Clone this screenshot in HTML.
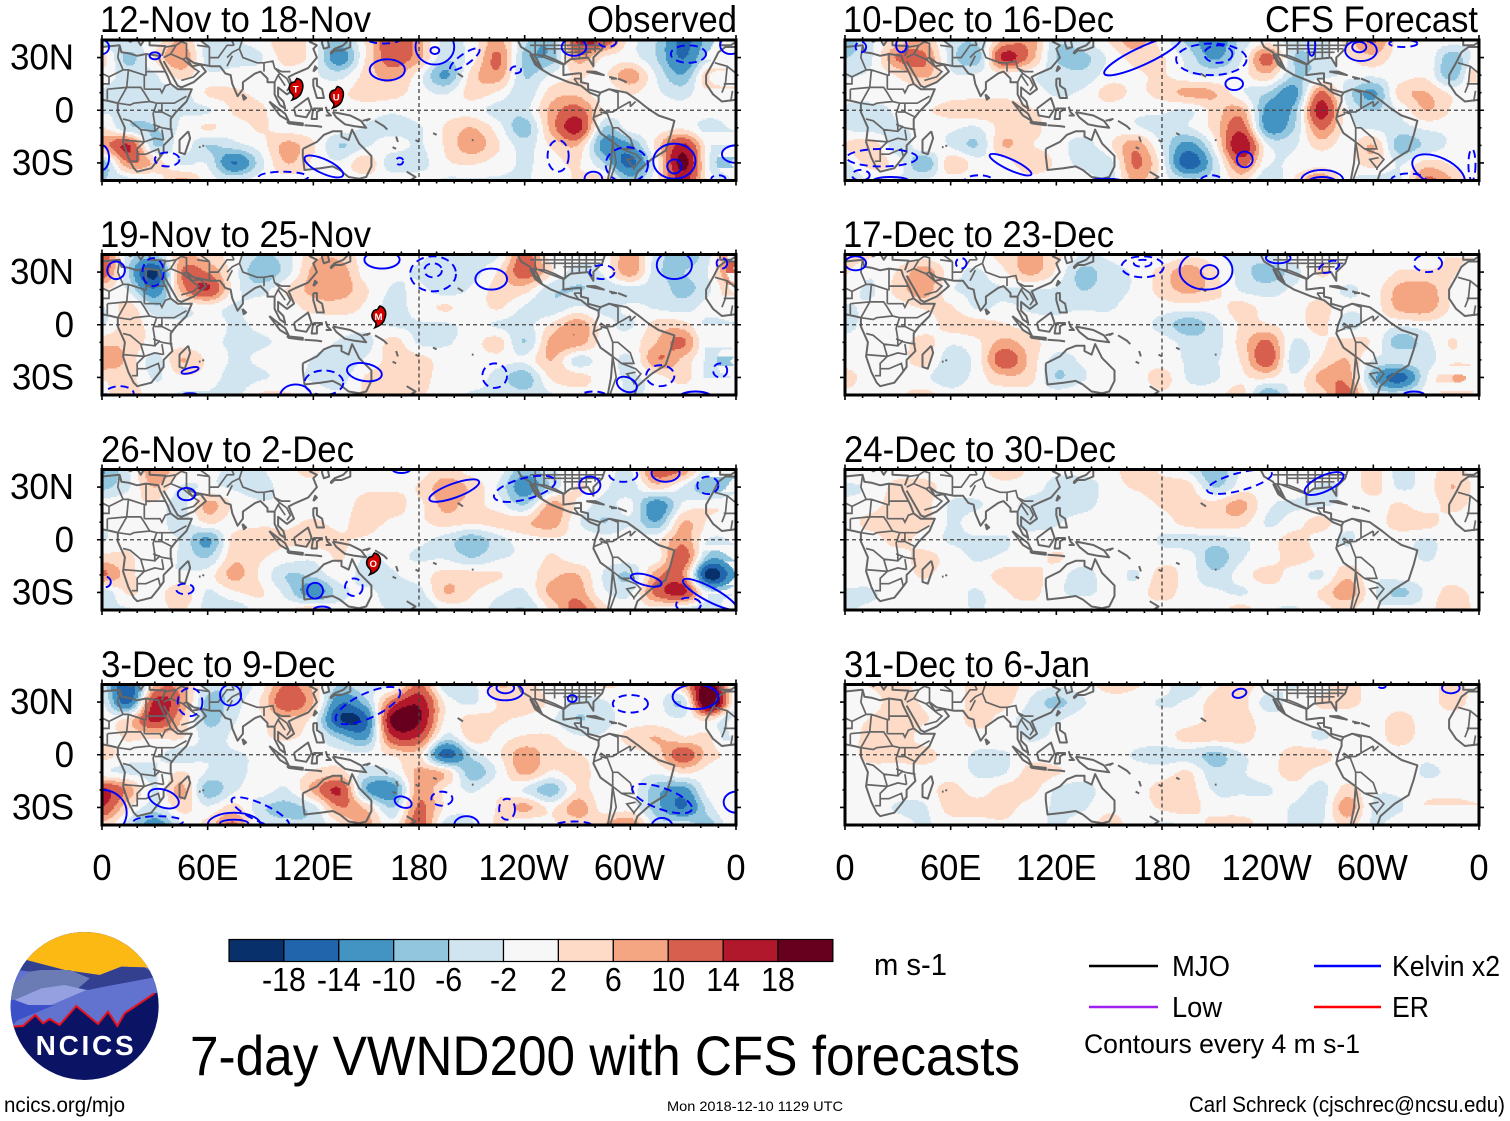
<!DOCTYPE html>
<html lang="en">
<head>
<meta charset="utf-8">
<title>7-day VWND200 with CFS forecasts</title>
<style>
html,body{margin:0;padding:0;background:#fff;width:1510px;height:1121px;overflow:hidden}
svg{display:block}
text{font-family:"Liberation Sans",sans-serif;fill:#000}
</style>
</head>
<body>
<svg id="chart" xmlns="http://www.w3.org/2000/svg" width="1510" height="1121" viewBox="0 0 1510 1121">
<rect width="1510" height="1121" fill="#fff"/>
<g id="panels"></g>

<g font-size="37">
<text x="100" y="32" textLength="271" lengthAdjust="spacingAndGlyphs">12-Nov to 18-Nov</text>
<text x="587" y="32" textLength="150" lengthAdjust="spacingAndGlyphs">Observed</text>
<text x="100" y="247" textLength="271" lengthAdjust="spacingAndGlyphs">19-Nov to 25-Nov</text>
<text x="101" y="462" textLength="253" lengthAdjust="spacingAndGlyphs">26-Nov to 2-Dec</text>
<text x="101" y="677" textLength="234" lengthAdjust="spacingAndGlyphs">3-Dec to 9-Dec</text>
<text x="843" y="32" textLength="271" lengthAdjust="spacingAndGlyphs">10-Dec to 16-Dec</text>
<text x="1265" y="32" textLength="213" lengthAdjust="spacingAndGlyphs">CFS Forecast</text>
<text x="843" y="247" textLength="271" lengthAdjust="spacingAndGlyphs">17-Dec to 23-Dec</text>
<text x="844" y="462" textLength="272" lengthAdjust="spacingAndGlyphs">24-Dec to 30-Dec</text>
<text x="844" y="677" textLength="246" lengthAdjust="spacingAndGlyphs">31-Dec to 6-Jan</text>
</g>

<g id="colorbar"></g>
<text x="874" y="975" font-size="31" textLength="73" lengthAdjust="spacingAndGlyphs">m s-1</text>

<g>
<line x1="1089" y1="966" x2="1158" y2="966" stroke="#000" stroke-width="2.4"/>
<text x="1172" y="976" font-size="29" textLength="58" lengthAdjust="spacingAndGlyphs">MJO</text>
<line x1="1089" y1="1007" x2="1158" y2="1007" stroke="#a020f0" stroke-width="2.4"/>
<text x="1172" y="1017" font-size="29" textLength="50" lengthAdjust="spacingAndGlyphs">Low</text>
<line x1="1314" y1="966" x2="1381" y2="966" stroke="#0000ff" stroke-width="2.4"/>
<text x="1392" y="976" font-size="29" textLength="108" lengthAdjust="spacingAndGlyphs">Kelvin x2</text>
<line x1="1314" y1="1007" x2="1381" y2="1007" stroke="#ff0000" stroke-width="2.4"/>
<text x="1392" y="1017" font-size="29" textLength="37" lengthAdjust="spacingAndGlyphs">ER</text>
<text x="1084" y="1053" font-size="27" textLength="276" lengthAdjust="spacingAndGlyphs">Contours every 4 m s-1</text>
</g>

<text x="190" y="1075" font-size="56" textLength="830" lengthAdjust="spacingAndGlyphs">7-day VWND200 with CFS forecasts</text>
<text x="4" y="1112" font-size="21" textLength="121" lengthAdjust="spacingAndGlyphs">ncics.org/mjo</text>
<text x="667" y="1111" font-size="14" textLength="176" lengthAdjust="spacingAndGlyphs">Mon 2018-12-10 1129 UTC</text>
<text x="1189" y="1112" font-size="22" textLength="316" lengthAdjust="spacingAndGlyphs">Carl Schreck (cjschrec@ncsu.edu)</text>

<g transform="translate(-2,920) scale(.3333)">
<clipPath id="logoClip"><circle cx="260" cy="258" r="222"/></clipPath>
<g clip-path="url(#logoClip)">
<rect x="30" y="30" width="460" height="460" fill="#0b1464"/>
<path fill="#6272cf" d="M30,0H490V215L470,220L380,280L358,318L330,275L300,312L235,258L185,315L155,297L135,310L112,285L75,318L30,322Z"/>
<path fill="#fdb913" d="M30,0H490V150L440,142L370,140L305,165L200,150L85,120L60,150L30,170Z"/>
<path fill="#333f8f" d="M60,150L85,120L200,150L305,165L370,140L440,142L480,170L320,200L270,210L240,205L275,175L215,150L130,150L95,155Z"/>
<path fill="#6b7cb5" d="M30,240L50,190L95,155L130,150L215,150L275,175L240,205L130,205L50,240Z"/>
<path fill="#94a0e0" d="M50,240L130,205L200,195L265,210L160,255L90,255Z"/>
<path fill="#3c50c8" d="M30,238L50,240L90,255L170,255L60,300L40,320L30,320Z"/>
<path fill="none" stroke="#e8121c" stroke-width="6" d="M40,320L75,318L112,285L135,310L155,297L185,315L235,258L300,312L330,275L358,318L380,280L470,220"/>
</g>
<text x="113" y="405" font-size="84" font-weight="bold" style="fill:#fff" textLength="294" lengthAdjust="spacing">NCICS</text>
</g>
</svg>

<script>
const gridLons = [0,15,30,45,60,75,90,105,120,135,150,165,180,195,210,225,240,255,270,285,300,315,330,345,360];
const gridLats = [40,30,20,10,0,-10,-20,-30,-40];
const bandEdges = [-18,-14,-10,-6,-2,2,6,10,14,18];
const bandColors = ['#08306b','#2166ac','#4393c3','#92c5de','#d1e5f0','#f7f7f7','#fddbc7','#f4a582','#d6604d','#b2182b','#67001f'];
const colorbarLabels = ['-18','-14','-10','-6','-2','2','6','10','14','18'];
const xTickValues = [0,60,120,180,240,300,360];
const xTickLabels = ['0','60E','120E','180','120W','60W','0'];
const yTickValues = [30,0,-30];
const yTickLabels = ['30N','0','30S'];

const field12Nov = [
[-4,-2,0,5,-3,-2,0,4,0,-6,2,12,6,-3,0,6,-4,-7,14,12,0,-5,-14,-6,-2],
[3,-6,2,8,-3,-3,-2,3,0,-11,2,11,6,-4,0,9,-6,-7,7,1,0,-5,-13,-3,-3],
[0,-3,-2,3,-1,0,0,0,-1,-3,3,6,0,-9,3,7,-5,-1,2,1,7,-2,-8,5,8],
[-2,-3,-2,-3,2,2,1,0,0,1,3,3,0,-2,3,1,-4,3,4,-1,2,-1,-3,2,3],
[-2,-2,-3,-2,-2,2,2,0,1,0,0,-1,0,0,0,-3,-3,6,10,1,0,0,0,0,0],
[2,-4,-5,-1,2,0,2,0,0,0,-2,-3,-2,2,5,0,-7,6,15,-5,0,0,1,-3,-1],
[6,13,-5,0,-5,-3,0,6,2,-5,-2,0,-2,2,7,2,-3,2,5,-10,-9,3,14,-1,-5],
[-7,8,4,-2,-2,-13,-3,5,1,-1,4,-4,-3,1,2,0,-2,0,2,-5,-14,0,19,-2,-9],
[-5,-3,-1,6,0,-2,0,0,0,0,0,1,0,-2,-2,-2,-2,0,2,3,-7,1,14,0,-5]];
const field19Nov = [
[12,-3,-5,5,3,0,-5,-3,4,4,0,-1,-1,-3,-2,-2,10,0,0,0,7,-3,-7,-2,12],
[12,-5,-18,8,8,0,-8,-3,6,7,0,-1,-2,-3,-3,2,11,2,-3,-1,7,-4,-5,-1,13],
[2,-2,-12,6,13,0,-3,2,6,7,2,-2,-1,-3,-1,3,3,-4,-5,-4,-3,-3,-6,-2,6],
[-2,3,-4,-2,0,-2,0,0,3,3,1,-3,0,2,0,2,-2,-4,-1,-3,-1,-2,-3,0,3],
[-2,3,0,-1,0,-2,-1,0,-1,0,0,-2,-2,-2,-1,-2,-3,2,7,0,-2,3,3,-3,-2],
[4,4,0,0,-1,-2,-2,-1,0,-2,-3,3,-2,-2,0,3,-5,6,7,0,0,5,9,-3,-3],
[8,4,-3,5,1,-2,-1,1,-2,-4,-1,3,3,0,0,0,-1,5,-3,0,-2,8,4,-3,-9],
[2,3,-2,1,0,-3,-2,-1,-2,-3,2,3,3,0,0,-3,-7,2,3,0,-2,0,3,-3,-5],
[1,3,0,-2,-2,-3,2,2,0,-1,2,3,2,0,-2,-2,-4,-2,0,0,-2,-1,-1,-1,-2]];
const field26Nov = [
[-9,-2,8,2,0,-3,-2,1,2,0,0,0,0,3,0,0,-7,-2,-1,0,-2,11,8,-4,-6],
[-6,-2,5,-2,-1,-2,-3,0,1,0,1,1,2,7,4,-2,-11,-4,2,-1,-3,3,-2,-8,-3],
[0,1,1,-3,6,1,-1,-1,0,0,3,3,1,6,3,0,-5,6,1,-3,-1,-11,-1,1,1],
[-1,0,0,-3,2,0,1,1,2,1,3,1,1,3,2,3,4,7,-1,-5,-2,-8,5,1,0],
[-2,1,-1,-2,-9,3,3,2,3,2,1,-1,-1,-3,-7,-3,0,1,1,0,0,1,7,-2,-1],
[3,2,0,-2,-5,4,2,0,-1,2,-2,-1,-2,-2,-5,-2,-1,2,0,0,0,0,11,-7,-4],
[9,3,-1,-1,0,6,1,-5,-4,0,-3,-2,0,3,3,2,0,4,5,-2,-5,7,8,-20,-8],
[-4,2,0,4,-2,1,2,-3,-11,-3,-1,-3,-3,5,2,-1,-2,6,7,-1,-2,10,14,-3,-2],
[-2,-2,0,2,-3,-4,0,1,4,0,-1,-2,-5,-1,0,-3,-5,2,10,3,0,0,-3,-4,2]];
const field3Dec = [
[-3,-17,5,7,-3,-4,0,9,4,-5,-2,-2,9,-4,-3,5,3,0,0,2,1,-1,5,20,-3],
[-1,-14,14,8,-6,-3,2,12,5,-12,-6,10,16,1,-2,2,4,1,-3,-2,1,0,-4,25,-2],
[0,3,14,5,-6,-2,1,4,0,-17,-14,19,18,1,3,2,1,-1,-5,-3,0,0,-1,2,-7],
[0,2,2,2,-3,-1,1,2,0,-6,-9,12,12,-3,3,1,2,2,-1,-1,3,5,2,2,-6],
[3,0,-1,-3,-2,-2,-1,0,0,0,-1,2,3,-15,-4,1,7,3,2,0,0,3,11,3,1],
[-1,-2,-2,2,-2,-3,0,0,2,3,-3,-2,6,4,-7,-1,6,1,3,0,0,-1,2,0,-1],
[14,7,-2,6,-7,-2,0,-2,6,13,-8,-11,7,1,-2,1,-2,-7,2,0,0,-7,-10,0,-4],
[13,2,-3,3,-1,3,-4,-6,-3,8,4,-5,9,1,-1,2,6,1,7,0,0,-7,-13,-3,3],
[4,-3,-11,-2,3,9,-2,-4,-4,1,6,0,11,-3,-2,2,-2,1,3,5,8,-3,-3,-6,2]];
const field10Dec = [
[-7,-2,3,5,-3,-4,5,7,-4,-2,2,7,0,-6,-11,-4,0,-3,-3,3,9,0,0,0,-1],
[-5,-2,9,9,-3,-7,14,7,-5,-6,-1,3,2,-3,-9,-2,10,-5,-3,1,4,0,1,-7,1],
[-2,-1,2,6,-1,-1,0,-1,-3,-4,0,1,2,-1,-2,0,4,-5,-3,-1,-1,0,1,-7,6],
[-1,0,0,-1,0,0,1,0,-2,-1,3,1,3,6,5,-1,-5,-10,9,-3,-9,3,5,1,2],
[-2,-3,-1,1,3,4,3,2,0,0,0,-1,-1,-2,3,6,-10,-7,15,-1,-5,-1,5,1,-2],
[-2,-3,-2,-1,-1,-2,3,3,0,0,0,-1,-3,-2,3,11,-10,-5,9,0,-2,-3,-1,-1,-2],
[2,4,-4,1,-2,-5,5,2,0,-3,1,7,-2,-10,0,17,-1,-2,3,0,5,-7,-4,-1,-1],
[-2,3,0,-8,4,0,0,4,1,-3,-3,9,0,-16,-4,10,-1,-1,0,0,3,-2,3,1,-2],
[-5,-1,-2,-1,0,-1,-1,0,0,1,-3,6,0,-4,-3,3,-5,2,8,-1,-3,-2,9,5,-1]];
const field17Dec = [
[3,2,0,0,-1,0,3,6,3,-2,-1,0,-1,1,0,-4,-2,0,1,0,0,0,0,2,2],
[2,-1,2,7,0,-2,1,6,1,-6,-3,-1,3,7,2,-3,-7,-3,2,0,-1,2,2,2,-1],
[0,-2,3,7,-1,-2,-2,-2,-2,-5,-3,-1,3,6,3,-2,-3,-1,0,-2,0,6,7,1,-2],
[-2,-1,0,2,2,-2,-1,-2,-2,-2,-2,0,0,0,0,3,0,0,3,-1,0,6,7,1,-1],
[-3,0,0,0,3,3,2,0,-1,0,0,0,-3,-7,-3,2,2,0,3,-3,0,-1,0,0,0],
[0,0,0,3,-1,1,6,3,0,0,0,0,0,-3,-3,3,9,-2,1,3,1,-7,-3,2,-3],
[0,0,0,3,-4,0,11,4,-3,-1,0,0,0,-2,-2,2,11,-4,2,5,-2,-2,-3,1,0],
[3,0,0,-1,-4,0,4,3,-5,-2,0,0,3,-2,-2,1,2,-1,6,7,-7,-15,-2,5,4],
[1,-1,1,3,0,1,0,0,0,1,0,-1,1,0,0,3,-8,0,3,10,-2,-3,0,2,1]];
const field24Dec = [
[0,0,0,0,0,0,4,1,-1,0,0,4,1,-2,-8,-1,1,0,0,-1,3,-3,0,3,0],
[-2,-1,3,3,0,0,0,0,-3,-4,0,2,3,3,-5,0,0,0,-2,-1,3,-2,0,5,0],
[-1,0,4,3,-2,-2,0,-3,-3,-3,0,0,2,3,3,6,-1,-2,-2,-1,0,2,0,3,0],
[0,3,4,3,-2,0,0,-3,-2,0,0,0,0,3,3,3,-2,0,3,-1,0,3,3,0,0],
[0,0,3,0,-2,-2,-2,0,0,0,0,0,-2,-3,-3,-2,0,3,0,-2,0,0,-2,0,0],
[0,0,0,3,0,-2,-1,0,2,0,0,0,0,0,-7,-2,0,3,1,0,0,0,-2,0,0],
[0,0,0,2,0,0,3,3,0,-3,0,-2,3,0,-4,0,3,0,-2,4,-1,0,0,0,-2],
[-2,-2,0,0,0,-2,1,3,-1,-2,-1,0,3,0,-1,-2,0,0,2,7,-1,-6,-1,3,0],
[-2,-1,0,0,0,-2,0,0,0,0,0,0,0,0,0,3,-1,-2,0,2,-1,0,0,5,0]];
const field31Dec = [
[0,2,3,0,0,3,4,0,-1,0,3,2,0,-4,1,3,0,-2,0,3,0,0,0,3,0],
[0,0,4,1,0,3,3,-2,-6,-2,0,0,-2,-1,3,3,-3,0,2,3,0,0,0,3,0],
[0,2,4,2,0,3,0,-3,-2,0,0,0,0,0,3,3,0,-1,0,-1,0,3,0,0,0],
[0,3,4,0,0,0,0,-2,-1,0,0,0,0,3,3,3,0,0,-2,0,0,3,0,0,0],
[0,3,3,3,0,-2,-2,0,0,0,0,-2,-3,-3,-6,-2,0,3,3,0,0,0,-1,0,0],
[0,0,0,0,0,-2,-2,3,2,0,0,0,0,2,-4,-2,0,3,0,0,0,0,-2,-1,0],
[0,0,0,0,3,0,3,3,-2,-3,0,0,3,3,-2,-2,-2,0,-3,3,-1,-1,0,0,0],
[0,0,-2,-2,3,3,3,0,-2,-2,1,0,2,3,0,0,0,-2,-3,7,-2,-2,2,3,2],
[0,0,0,-2,0,0,1,0,-2,0,3,0,-2,-1,3,3,0,-2,-2,3,-2,0,0,0,3]];

/* contours: lon, lat, lon radius, lat radius, tilt degrees, dashed flag */
const contours12Nov = [[162,23,10,6,0,0],[189,34,2.5,2,0,0],[189,36,11,10,0,0],[206,29,10,3,-35,1],[235,23,3,2,0,1],[160,41,10,3,0,1],[30,31,3,2,0,0],[0,-27,4,7,0,0],[0,36,4,4,0,0],[37,-28,7,4,0,1],[126,-32,12,4,25,0],[103,-38,14,3,0,1],[169,-29,2,2,0,1],[259,-26,6,9,0,1],[279,-39,5,4,0,0],[298,-31,12,10,0,1],[325,-29,12,10,0,0],[325,-32,4,4,0,0],[360,-25,8,5,0,0],[333,32,10,5,0,1],[357,37,6,5,0,0],[268,36,7,5,0,0],[287,39,5,3,0,1],[350,-39,4,2,0,1]];
const contours19Nov = [[8,31,5,5,-30,0],[29,30,6,8,0,1],[159,37,10,5,0,0],[188,29,13,10,0,1],[188,31,5,4,0,1],[221,26,9,6,0,0],[325,34,10,8,0,0],[284,30,7,4,0,1],[352,35,3,3,0,1],[50,-26,5,1.5,-15,0],[149,-27,10,5,10,0],[126,-33,11,7,0,1],[110,-41,9,7,0,0],[223,-29,7,7,0,1],[298,-34,6,4,25,0],[317,-29,8,6,0,1],[279,-41,8,3,0,1],[337,-41,9,3,0,0],[351,-26,4,4,0,1],[10,-39,8,4,0,1],[50,-40,4,1,0,0]];
const contours26Nov = [[48,26,5,3.5,0,0],[200,28,15,4,-20,0],[240,29,18,6,-15,1],[277,31,6,5,0,0],[296,37,8,4,0,1],[320,38,8,5,0,0],[344,31,6,5,0,1],[170,40,5,2,0,0],[121,-29,4.5,4.5,0,0],[143,-27,5,5,0,1],[47,-28,5,3,0,1],[309,-23,9,3,15,0],[345,-31,17,4,28,0],[333,-37,7,4,0,1],[125,-40,5,2,0,0],[2,-24,3,3,0,1]];
const contours3Dec = [[151,28,20,7,-25,1],[73,34,6,6,0,0],[50,30,7,8,0,1],[229,36,10,5,0,0],[229,38,5,3,0,0],[267,32,2.5,2,0,0],[300,29,10,5,0,1],[337,33,13,7,0,0],[35,-25,9,5,20,0],[0,-33,14,13,0,0],[75,-40,15,7,0,0],[75,-39,8,2,0,0],[90,-33,18,5,25,1],[171,-27,5,3,20,0],[193,-25,6,4,0,1],[230,-31,4.5,6,0,1],[32,-38,14,3,0,1],[207,-40,7,5,0,0],[268,-40,10,2,0,1],[318,-41,6,5,0,0],[318,-25,18,6,20,1],[360,-27,7,6,0,0]];
const contours10Dec = [[169,31,24,5,-25,0],[9,36,3,3,0,1],[32,37,3,4,0,0],[208,29,20,9,0,1],[212,32,8,5,0,1],[221,15,5,3.5,0,0],[293,34,9,6,0,0],[292,36,4,3,0,0],[317,38,8,2,0,1],[265,37,2,6,0,0],[227,-28,4.5,4.5,0,0],[94,-31,13,3,25,0],[26,-40,10,2,0,0],[76,-40,8,3,0,1],[148,-41,11,2,0,0],[208,-40,6,3,0,1],[271,-40,12,6,0,0],[271,-41,8,3,0,0],[21,-27,20,5,0,1],[9,-37,5,3,0,1],[337,-35,16,8,25,0],[320,-40,10,4,0,1],[356,-31,2,9,0,1]];
const contours17Dec = [[6,35,6,4,0,0],[66,35,3,3,0,1],[169,33,12,6,0,1],[169,35,5,2,0,1],[205,31,15,11,0,0],[207,30,5,4,0,0],[246,38,7,3,0,0],[275,33,6,3,-20,1],[331,35,8,5,0,1],[323,-40,6,2,0,0]];
const contours24Dec = [[224,33,19,5,-15,1],[272,32,12,4.5,-25,0]];
const contours31Dec = [[224,35,4,2.5,-15,0],[344,38,5,3,0,0],[305,39,2,1,0,1]];

const storms12Nov = [[110,12,'T'],[133,7.4,'U']];
const storms19Nov = [[157,4.5,'M']];
const storms26Nov = [[154,-13.7,'O']];

const coastArcs = [
[[0,6],[5,5],[9,4],[9,-1],[13,-10],[12,-18],[15,-27],[18,-33],[20,-35],[28,-33],[32,-28],[35,-24],[35,-20],[40,-15],[39,-10],[39,-5],[42,-1],[48,5],[51,12],[43,12],[39,15],[37,20],[35,24],[33,28],[32,31],[25,32],[20,31],[15,32.5],[11,33],[10,37],[0,36]],
[[360,6],[352,5],[347,9],[343,15],[343,20],[347,27],[350,33],[354,36],[360,36]],
[[0,40],[3,42],[8,44],[12,42],[16,39],[18,40],[13,45]],[[19,42],[22,37],[24,40],[27,40],[27,37],[36,36.5],[34,31]],[[354,37],[351,37],[351,43]],[[360,39],[357,37],[354,37]],
[[35,28],[39,21],[43,14],[45,13],[52,16],[59,22],[56,26],[51,25],[48,30],[52,27],[57,26],[62,25],[67,25],[70,21],[73,20],[74,15],[77,8],[80,12],[80,16],[87,21],[90,22],[94,18],[94,16],[98,16],[98,9],[101,3],[104,1],[103,5],[100,8],[100,13],[105,9],[109,12],[106,19],[110,21],[117,24],[122,30],[120,35],[122,37],[118,39],[122,41]],
[[125,41],[125,38],[126,35],[129,36],[128,41]],
[[130,32],[132,34],[136,34],[141,36],[141,41],[137,37],[132,35],[130,33],[130,32]],
[[120,22],[121,25],[122,24],[120,22]],[[79.7,9],[81.8,7],[80.5,6],[79.7,9]],
[[120,18],[122,18],[122,14],[125,12],[126,7],[122,7],[120,14],[120,18]],
[[109,1],[117,7],[119,1],[116,-4],[110,-3],[109,1]],
[[95,5],[104,-2],[106,-6],[101,-3],[95,5]],
[[105,-6.5],[114,-7.5],[114,-8.5],[106,-7.5],[105,-6.5]],[[115,-8.5],[122,-9],[125,-9.5]],
[[120,1],[125,1],[122,-1],[122,-5],[119,-5],[120,1]],[[127,2],[128,-1],[130,-3],[127,-3]],
[[131,-1],[141,-3],[147,-6],[150,-10],[143,-9],[138,-8],[133,-4],[131,-1]],[[148,-6],[152,-5],[150,-6]],[[155,-6],[160,-9],[162,-11]],
[[114,-22],[122,-18],[126,-14],[131,-12],[136,-12],[136,-15],[140,-17],[142,-11],[146,-19],[153,-26],[153,-32],[150,-38],[146,-39],[140,-38],[135,-34],[131,-32],[124,-33],[115,-34],[114,-26],[114,-22]],
[[49,-12],[50,-16],[47,-25],[44,-24],[44,-17],[49,-12]],[[173,-35],[178,-38],[175,-40]],[[167,-15],[168,-18]],[[165,-21],[167,-22]],[[178,-17],[180,-18]],[[190,-14],[188,-13]],[[202,21],[205,19]],[[57,-20],[58,-20.5]],[[55,-21],[56,-21]],[[210,-17],[211,-17]],
[[236,41],[236,40],[238,36],[243,33],[246,28],[250,23],[255,20],[265,16],[272,14],[277,10],[282,8]],
[[243,32],[246,26],[250,23],[247,29],[245,32]],
[[283,10],[276,12],[276,15],[272,16],[272,21],[270,21],[262,20],[262,26],[266,29],[276,30],[279,25],[279,30],[284,35],[286,41]],
[[275,22],[285,20],[280,22],[275,22]],[[288,19],[292,18],[289,18]],[[293,18],[298,16]],
[[282,8],[283,10],[288,12],[298,10],[305,5],[310,1],[316,-3],[325,-6],[323,-14],[320,-23],[312,-28],[304,-35],[302,-41]],
[[287,-41],[289,-30],[290,-18],[283,-13],[279,-5],[280,0],[282,5],[282,8]]
];
const borderArcs = [
[[25,32],[25,20],[24,20],[24,12]],[[25,22],[36,22]],[[10,37],[9,30],[12,23],[15,23],[24,20]],[[15,23],[14,13],[22,13],[24,10],[27,5],[31,4],[34,4],[41,4],[48,8]],[[36,22],[38,18]],[[24,12],[33,12],[34,10],[36,14],[39,15]],[[4,19],[12,23]],[[0,15],[4,15],[4,19]],[[3,12],[3,6]],[[14,13],[9,4]],[[14,13],[3,12]],[[9,4],[16,3],[18,4],[27,5]],[[12,-5],[16,-6],[22,-11],[30,-12],[30,-8],[29,-2],[31,4]],[[34,4],[34,-1],[40,-4]],[[30,-1],[34,-1]],[[29,-8],[34,-10],[40,-11]],[[12,-17],[24,-18],[30,-16],[35,-17]],[[24,-18],[20,-22],[20,-29],[17,-29]],[[20,-25],[25,-25],[32,-22],[33,-26]],[[22,-11],[24,-18]],[[30,-12],[33,-9]],[[34,-11],[35,-17]],[[0,21],[4,19]],[[0,36],[0,21]],
[[353,15],[357,15],[360,15]],[[348,27],[355,25],[360,21]],[[355,25],[354,15],[352,10]],[[358,11],[357,5]],
[[36,36],[42,37],[45,39]],[[42,37],[39,32],[35,30]],[[39,32],[46,29],[48,30]],[[46,29],[52,24],[55,22],[52,19],[45,17]],[[45,39],[48,38],[48,30]],[[61,36],[61,25]],[[61,30],[66,30],[71,37],[75,37]],[[71,30],[74,33],[78,35],[80,30],[88,27],[92,27],[97,28],[98,24],[101,21],[100,20],[98,16]],[[71,25],[74,31]],[[61,36],[54,37]],[[78,35],[80,41]],[[98,24],[102,22],[107,22]],[[101,21],[105,18],[107,14],[105,11]],[[100,20],[104,14]],[[54,41],[61,36]],[[75,37],[73,41]],[[92,27],[92,22]],[[20,41],[27,41]],[[10,44],[18,46]],
[[246,32],[262,26]],[[243,37],[285,37]],[[243,41],[285,41]],[[246,32],[246,41]],[[251,31],[251,41]],[[257,32],[257,41]],[[263,26],[263,41]],[[267,29],[267,41]],[[271,30],[271,41]],[[275,30],[275,41]],[[280,33],[280,41]],[[251,35],[283,35]],[[262,33],[278,33]],
[[243,32],[252,31],[257,29],[263,26]],[[268,18],[271,14]],[[272,18],[268,18]],
[[283,1],[286,-1],[290,-1],[293,1],[293,10],[288,12]],[[283,-1],[287,-2],[290,-10],[290,-18],[295,-22],[303,-25],[306,-28],[302,-33]],[[293,1],[300,5]],[[300,2],[303,5]],[[290,-10],[293,-10],[300,-16],[302,-22],[295,-22]],[[290,-18],[292,-30],[288,-41]],[[303,-27],[298,-28],[302,-33],[302,-34]],[[300,5],[300,2]],[[279,-4],[284,-2]]
];

const panelLefts = [102,845];
const panelTops = [40,254.5,469.5,684.5];
const panelWidth = 634;
const panelHeight = 140.5;
const panelSpecs = [
  {col:0,row:0,id:'12-nov',field:field12Nov,lines:contours12Nov,storms:storms12Nov},
  {col:0,row:1,id:'19-nov',field:field19Nov,lines:contours19Nov,storms:storms19Nov},
  {col:0,row:2,id:'26-nov',field:field26Nov,lines:contours26Nov,storms:storms26Nov},
  {col:0,row:3,id:'3-dec',field:field3Dec,lines:contours3Dec,storms:[]},
  {col:1,row:0,id:'10-dec',field:field10Dec,lines:contours10Dec,storms:[]},
  {col:1,row:1,id:'17-dec',field:field17Dec,lines:contours17Dec,storms:[]},
  {col:1,row:2,id:'24-dec',field:field24Dec,lines:contours24Dec,storms:[]},
  {col:1,row:3,id:'31-dec',field:field31Dec,lines:contours31Dec,storms:[]}
];

const NS = 'http://www.w3.org/2000/svg';
function mk(parent, tag, attrs){
  const el = document.createElementNS(NS, tag);
  for (const k in attrs) el.setAttribute(k, attrs[k]);
  parent.appendChild(el);
  return el;
}
function cubic(a,b,c,d,t){
  return b + 0.5*t*(c-a + t*(2*a-5*b+4*c-d + t*(3*(b-c)+d-a)));
}
function widen(v){
  const s = Math.abs(v);
  const out = s < 8 ? s*1.22 : 9.76 + (s-8)*0.9;
  return v < 0 ? -out : out;
}
function sample(field, lon, lat){
  const stepLon = gridLons[1]-gridLons[0];
  const stepLat = gridLats[0]-gridLats[1];
  const fx = (lon-gridLons[0])/stepLon;
  const fy = (gridLats[0]-lat)/stepLat;
  const ix = Math.min(Math.floor(fx), gridLons.length-2);
  const iy = Math.min(Math.floor(fy), gridLats.length-2);
  const tx = fx-ix, ty = fy-iy;
  const rowVals = [];
  for (let j=-1;j<=2;j++){
    const r = field[Math.max(0,Math.min(gridLats.length-1,iy+j))];
    const g = i => r[Math.max(0,Math.min(gridLons.length-1,i))];
    rowVals.push(cubic(g(ix-1),g(ix),g(ix+1),g(ix+2),tx));
  }
  return widen(cubic(rowVals[0],rowVals[1],rowVals[2],rowVals[3],ty));
}
function bandOf(v){
  let b = 0;
  while (b < bandEdges.length && v >= bandEdges[b]) b++;
  return b;
}

const panelsRoot = document.getElementById('panels');
panelSpecs.forEach(spec => {
  const L = panelLefts[spec.col], T = panelTops[spec.row], W = panelWidth, H = panelHeight;
  const xOf = lon => L + lon*W/360;
  const yOf = lat => T + (40-lat)*H/80;
  const g = mk(panelsRoot,'g',{});
  
  
  const clip = mk(g,'clipPath',{id:'clip-'+spec.id});
  mk(clip,'rect',{x:L,y:T,width:W,height:H});
  const inner = mk(g,'g',{'clip-path':'url(#clip-'+spec.id+')'});
  const bg = mk(inner,'rect',{x:L,y:T,width:W,height:H,fill:bandColors[5]});
  
  

  const heat = mk(inner,'g',{'shape-rendering':'crispEdges'});
  
  
  const cw = 1.5, ch = 1.5;
  for (let py=0; py<H; py+=ch){
    let runStart = 0, runBand = -1;
    for (let px=0; px<=W; px+=cw){
      let b = -2;
      if (px<W){
        const lon = (px+cw/2)*360/W, lat = 40-(py+ch/2)*80/H;
        b = bandOf(sample(spec.field,lon,lat));
      }
      if (b!==runBand){
        if (runBand>=0 && runBand!==5){
          const cell = mk(heat,'rect',{x:L+runStart,y:T+py,width:px-runStart,height:ch+0.5,fill:bandColors[runBand]});
          
          
        }
        runStart = px; runBand = b;
      }
    }
  }

  const arcsToPath = arcs => arcs.map(a => a.map((p,i)=>(i?'L':'M')+xOf(p[0]).toFixed(1)+','+yOf(p[1]).toFixed(1)).join('')).join('');
  const borders = mk(inner,'path',{d:arcsToPath(borderArcs),fill:'none',stroke:'#666',"stroke-width":1.7});
  
  
  const coast = mk(inner,'path',{d:arcsToPath(coastArcs),fill:'none',stroke:'#666',"stroke-width":2,"stroke-linejoin":'round'});
  
  

  const eq = mk(inner,'line',{x1:L,x2:L+W,y1:yOf(0),y2:yOf(0),stroke:'#444',"stroke-width":1.3,"stroke-dasharray":'4 3'});
  
  
  const dl = mk(inner,'line',{x1:xOf(180),x2:xOf(180),y1:T,y2:T+H,stroke:'#444',"stroke-width":1.3,"stroke-dasharray":'4 3'});
  
  

  spec.lines.forEach(c => {
    const cx = xOf(c[0]), cy = yOf(c[1]);
    const e = mk(inner,'ellipse',{cx:cx,cy:cy,rx:c[2]*W/360,ry:c[3]*H/80,fill:'none',stroke:'#0000ff',"stroke-width":1.9,
      transform:'rotate('+c[4]+' '+cx+' '+cy+')'});
    if (c[5]) e.setAttribute('stroke-dasharray','8 5');
    
    
  });

  spec.storms.forEach(s => {
    const sg = mk(inner,'g',{transform:'translate('+xOf(s[0])+','+yOf(s[1])+') scale(1.2)'});
    
    
    mk(sg,'path',{d:'M1,-9C6,-8 7,-3 5,2C4,6 0,8 -3,9C-1,6 -2,5 -4,3C-7,-1 -5,-6 -1,-6C0,-7 0,-8 1,-9Z',fill:'#d40000',stroke:'#000',"stroke-width":1.3});
    const t = mk(sg,'text',{x:0,y:2.8,"font-size":8,"font-weight":'bold',"text-anchor":'middle',style:'fill:#fff'});
    t.textContent = s[2];
  });

  const frame = mk(g,'rect',{x:L,y:T,width:W,height:H,fill:'none',stroke:'#000',"stroke-width":3});
  
  

  let d = '';
  for (let lon=0; lon<=360; lon+=10){
    const major = xTickValues.includes(lon);
    const len = major ? 5 : 3;
    d += 'M'+xOf(lon)+','+T+'v'+(-len)+'M'+xOf(lon)+','+(T+H)+'v'+len;
  }
  for (let lat=-30; lat<=30; lat+=10){
    const major = yTickValues.includes(lat);
    const len = major ? 5 : 2.5;
    d += 'M'+L+','+yOf(lat)+'h'+(-len)+'M'+(L+W)+','+yOf(lat)+'h'+len;
  }
  const ticks = mk(g,'path',{d:d,stroke:'#000',"stroke-width":1.6,fill:'none'});
  
  

  if (spec.col===0){
    yTickValues.forEach((v,i) => {
      const t = mk(g,'text',{"font-size":36,"text-anchor":'end',transform:'translate(74,'+(yOf(v)+12)+') scale(.97,1)'});
      
      
      t.textContent = yTickLabels[i];
    });
  }
  if (spec.row===3){
    xTickValues.forEach((v,i) => {
      const t = mk(g,'text',{"font-size":36,"text-anchor":'middle',transform:'translate('+(xOf(v)-(i===4||i===5?1:0))+',880) scale(.96,1)'});
      
      
      t.textContent = xTickLabels[i];
    });
  }
});

const cbRoot = document.getElementById('colorbar');
const cbLeft = 229, cbCell = 54.9, cbTop = 939.5, cbHeight = 22;
bandColors.forEach((c,i) => {
  const r = mk(cbRoot,'rect',{x:cbLeft+i*cbCell,y:cbTop,width:cbCell,height:cbHeight,fill:c,stroke:'#000',"stroke-width":1.2});
  
  
});
colorbarLabels.forEach((s,i) => {
  const t = mk(cbRoot,'text',{"font-size":33,"text-anchor":'middle',transform:'translate('+(cbLeft+(i+1)*cbCell)+',991) scale(.92,1)'});
  
  
  t.textContent = s;
});
</script>
</body>
</html>
